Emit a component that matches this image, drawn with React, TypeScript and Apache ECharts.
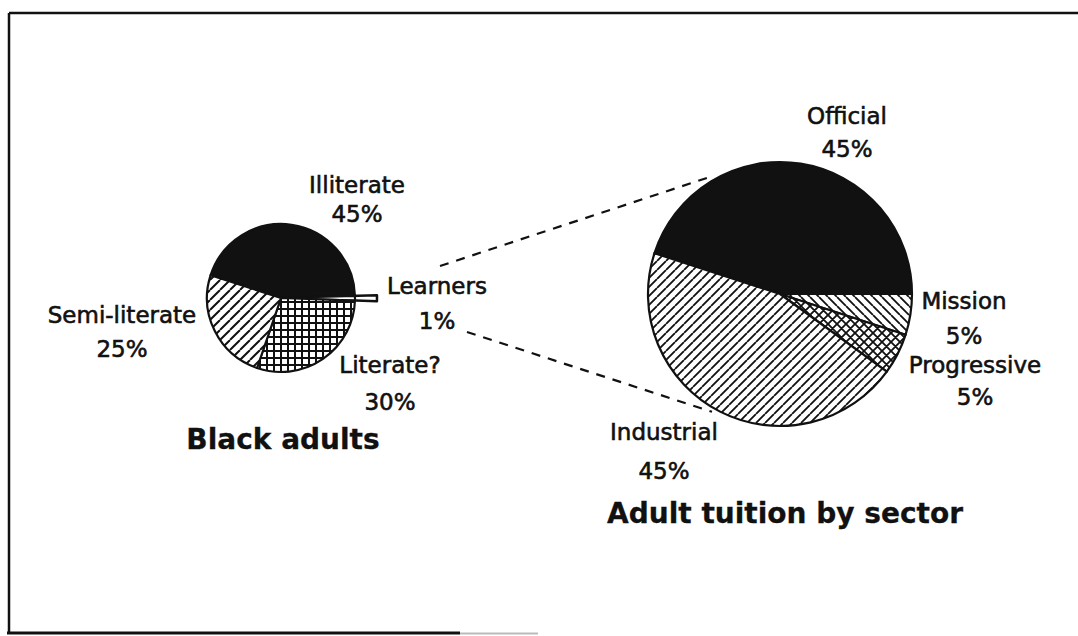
import React, { useEffect, useRef } from 'react';
import * as echarts from 'echarts';

// ---- data ----
const leftNames = ['Illiterate', 'Learners', 'Literate?', 'Semi-literate'];
const leftValues = [45, 1, 30, 25];
const rightNames = ['Official', 'Mission', 'Progressive', 'Industrial'];
const rightValues = [45, 5, 5, 45];
const titles = ['Black adults', 'Adult tuition by sector'];

// ---- layout (positions / styles) ----
const LEFT = { cx: 281, cy: 298, r: 74, start: 162 };
const RIGHT = { cx: 780, cy: 294, r: 132, start: 162 };
// [centerX, nameY, percentY]
const leftLabelPos = [
  [357, 185, 213.5],
  [437, 286, 321],
  [390, 365, 402],
  [122, 315, 348.5],
];
const rightLabelPos = [
  [847, 116, 149],
  [964, 301, 336],
  [975, 365, 397],
  [664, 432, 471],
];
const titlePos = [
  [283, 439],
  [785, 513],
];
const INK = '#111';

function hatch(kind: string, s: number, lw: number) {
  const c = document.createElement('canvas');
  c.width = s;
  c.height = s;
  const g = c.getContext('2d')!;
  g.fillStyle = '#fff';
  g.fillRect(0, 0, s, s);
  g.strokeStyle = INK;
  g.fillStyle = INK;
  g.lineWidth = lw;
  g.beginPath();
  if (kind === 'fwd' || kind === 'cross') {
    for (const k of [-1, 0, 1]) {
      g.moveTo(k * s, s);
      g.lineTo(k * s + s, 0);
    }
  }
  if (kind === 'back' || kind === 'cross') {
    for (const k of [-1, 0, 1]) {
      g.moveTo(k * s, 0);
      g.lineTo(k * s + s, s);
    }
  }
  g.stroke();
  if (kind === 'grid') {
    g.fillRect(0, 0, s, lw);
    g.fillRect(0, 0, lw, s);
  }
  return { image: c, repeat: 'repeat' } as any;
}

export default function App() {
  const ref = useRef<HTMLDivElement>(null);

  useEffect(() => {
    if (!ref.current) return;
    const chart = echarts.init(ref.current, undefined, { renderer: 'svg' });

    const leftFills = [INK, '#fff', hatch('grid', 7, 2), hatch('fwd', 10, 2)];
    const rightFills = [INK, hatch('back', 9, 1.8), hatch('cross', 9, 1.8), hatch('fwd', 9, 1.8)];

    const base = {
      type: 'pie',
      silent: true,
      clockwise: true,
      avoidLabelOverlap: false,
      label: { show: false },
      labelLine: { show: false },
      emphasis: { disabled: true, scale: false },
    };

    const texts: any[] = [];
    const font = (size: number, weight: string, thick: number) => ({
      fontFamily: 'DejaVu Sans',
      fontSize: size,
      fontWeight: weight,
      fill: INK,
      stroke: INK,
      lineWidth: thick,
      align: 'center',
      verticalAlign: 'middle',
    });
    const addLabels = (names: string[], values: number[], pos: number[][]) => {
      names.forEach((n, i) => {
        const [x, y1, y2] = pos[i];
        texts.push({ type: 'text', x, y: y1, style: { text: n, ...font(23, 'normal', 0.6) } });
        texts.push({ type: 'text', x, y: y2, style: { text: values[i] + '%', ...font(23, 'normal', 0.6) } });
      });
    };
    addLabels(leftNames, leftValues, leftLabelPos);
    addLabels(rightNames, rightValues, rightLabelPos);
    titles.forEach((t, i) => {
      texts.push({ type: 'text', x: titlePos[i][0], y: titlePos[i][1], style: { text: t, ...font(28, 'bold', 0.3) } });
    });

    const rad = (d: number) => (d * Math.PI) / 180;
    const onRight = (deg: number, extra: number) => [
      RIGHT.cx + (RIGHT.r + extra) * Math.cos(rad(deg)),
      RIGHT.cy - (RIGHT.r + extra) * Math.sin(rad(deg)),
    ];
    const up = onRight(122, 5);
    const dn = onRight(-120, 4);
    const dash = { stroke: INK, lineWidth: 2.2, lineDash: [9, 8] };

    const frame = { stroke: INK, lineWidth: 2.5 };

    chart.setOption({
      animation: false,
      backgroundColor: '#fff',
      series: [
        {
          ...base,
          z: 2,
          center: [LEFT.cx, LEFT.cy],
          radius: [LEFT.r - 6, LEFT.r + 22],
          startAngle: LEFT.start,
          data: leftNames.map((n, i) => ({
            name: n,
            value: leftValues[i],
            itemStyle:
              i === 1
                ? { color: '#fff', borderColor: INK, borderWidth: 2.5 }
                : { color: 'rgba(0,0,0,0)', borderWidth: 0 },
          })),
        },
        {
          ...base,
          z: 3,
          center: [LEFT.cx, LEFT.cy],
          radius: [0, LEFT.r],
          startAngle: LEFT.start,
          itemStyle: { borderColor: INK, borderWidth: 2.2 },
          data: leftNames.map((n, i) => ({ name: n, value: leftValues[i], itemStyle: { color: leftFills[i] } })),
        },
        {
          ...base,
          z: 3,
          center: [RIGHT.cx, RIGHT.cy],
          radius: [0, RIGHT.r],
          startAngle: RIGHT.start,
          itemStyle: { borderColor: INK, borderWidth: 2.2 },
          data: rightNames.map((n, i) => ({ name: n, value: rightValues[i], itemStyle: { color: rightFills[i] } })),
        },
      ],
      graphic: [
        { type: 'line', shape: { x1: 9, y1: 13, x2: 1078, y2: 13 }, style: frame },
        { type: 'line', shape: { x1: 9, y1: 13, x2: 9, y2: 633 }, style: frame },
        { type: 'line', shape: { x1: 7, y1: 633, x2: 460, y2: 633 }, style: { stroke: INK, lineWidth: 3 } },
        { type: 'line', shape: { x1: 460, y1: 633.5, x2: 538, y2: 633.5 }, style: { stroke: '#bbb', lineWidth: 2 } },
        { type: 'line', shape: { x1: 440, y1: 266, x2: up[0], y2: up[1] }, style: dash },
        { type: 'line', shape: { x1: 467, y1: 332, x2: dn[0], y2: dn[1] }, style: dash },
        ...texts,
      ],
    });

    return () => chart.dispose();
  }, []);

  return (
    <div
      ref={ref}
      style={{ position: 'absolute', left: 0, top: 0, width: 1078, height: 636 }}
    />
  );
}
